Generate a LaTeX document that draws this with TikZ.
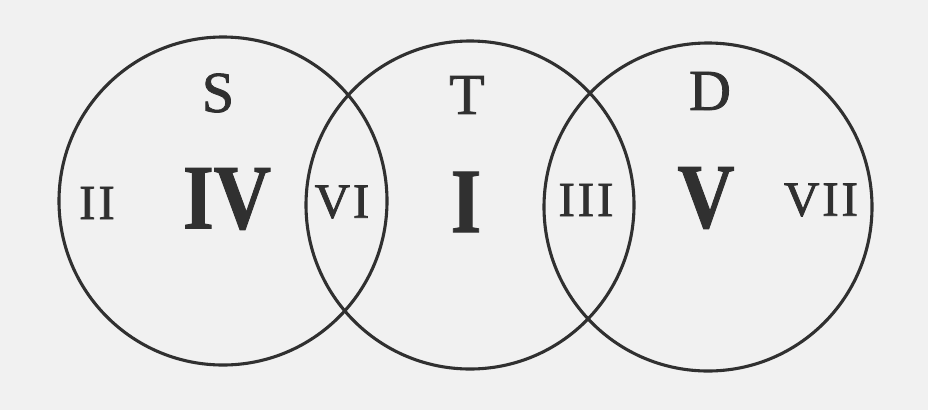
\documentclass[tikz,border=0pt]{standalone}
\usepackage{fontspec}
\setmainfont{Liberation Serif}
\newfontfamily\bigroman[FakeStretch=0.86,FakeBold=1]{Liberation Serif}
\newfontfamily\smallroman[LetterSpace=6,FakeBold=1.6]{Liberation Serif}
\newfontfamily\keyroman[FakeBold=1.4]{Liberation Serif}
\definecolor{paper}{RGB}{241,241,241}
\definecolor{ink}{RGB}{48,48,48}

\begin{document}
\begin{tikzpicture}[
  x=1pt,y=-1pt,
  ring/.style={draw=ink,line width=3.1pt,circle,minimum size=328pt,inner sep=0pt},
  keyletter/.style={text=ink,inner sep=0pt,font=\fontsize{58}{58}\keyroman},
  degree/.style={text=ink,inner sep=0pt,font=\fontsize{49}{49}\smallroman},
  mainchord/.style={text=ink,inner sep=0pt,font=\fontsize{92}{92}\bigroman\bfseries}
]
  \fill[paper] (0,0) rectangle (928,410);
  \useasboundingbox (0,0) rectangle (928,410);
  % the three circles
  \node[ring] (subdom) at (223,201) {};
  \node[ring] (tonic) at (470,205) {};
  \node[ring] (dom) at (708,207) {};
  % function letters
  \node[keyletter] (s) at (218,93) {S};
  \node[keyletter] (t) at (467,95) {T};
  \node[keyletter] (d) at (710,91) {D};
  % main degrees
  \node[mainchord] (iv) at (227,199) {IV};
  \node[mainchord] (i) at (466,202) {I};
  \node[mainchord] (v) at (706,198) {V};
  % side degrees
  \node[degree] (ii) at (97,203) {II};
  \node[degree] (vi) at (342,202) {VI};
  \node[degree] (iii) at (586,200) {III};
  \node[degree] (vii) at (821,200) {VII};
\end{tikzpicture}
\end{document}
